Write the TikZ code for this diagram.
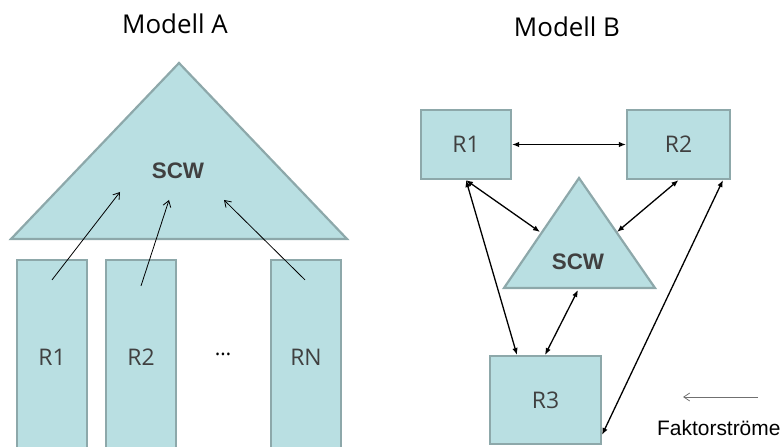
\documentclass[tikz,border=0pt]{standalone}
\usepackage{fontspec}
\setmainfont{Liberation Sans}
\newfontfamily\titlefont{Open Sans}
\newfontfamily\labelfont{Open Sans}
\usetikzlibrary{arrows.meta,calc}
\definecolor{boxfill}{HTML}{B9DFE2}
\definecolor{boxline}{HTML}{8DA8AA}
\definecolor{labelgrey}{HTML}{404040}
\definecolor{legendgrey}{HTML}{707070}
\begin{document}
\begin{tikzpicture}[x=1bp,y=-1bp,
  shapestyle/.style={fill=boxfill,draw=boxline,line width=2.2bp},
  rbox/.style={shapestyle,inner sep=0pt,font=\labelfont\fontsize{23}{27}\selectfont,text=labelgrey},
  scwtext/.style={font=\bfseries\fontsize{22.5}{26}\selectfont,text=labelgrey},
  titletext/.style={font=\titlefont\fontsize{26}{30}\selectfont},
  flowA/.style={line width=0.8bp,-{Straight Barb[length=6bp,width=8bp]}},
  flowB/.style={line width=1.3bp,{Latex[length=7bp,width=5.5bp]}-{Latex[length=7bp,width=5.5bp]}},
]
\useasboundingbox (0,0) rectangle (784,447);
\clip (0,0) rectangle (784,447);

% ---------- Modell A ----------
\node[titletext] (titleA) at (175,24) {Modell A};
\coordinate (tA) at (179,63);
\coordinate (lA) at (11,239);
\coordinate (rA) at (347,239);
\path[shapestyle] (tA) -- (rA) -- (lA) -- cycle;
\node[scwtext] (scwA) at (178,171) {SCW};

\node[rbox,minimum width=70bp,minimum height=194bp] (a1) at (52,357) {R1};
\node[rbox,minimum width=70bp,minimum height=194bp] (a2) at (141,357) {R2};
\node[rbox,minimum width=70bp,minimum height=194bp] (aN) at (306,357) {RN};
\node[font=\labelfont\fontsize{21}{25}\selectfont] (dots) at (223,354) {\dots};

\coordinate (e1) at (120,192);
\coordinate (e2) at (169,200);
\coordinate (e3) at (224,200);
\draw[flowA] ($(a1.north)+(0,21)$) -- (e1);
\draw[flowA] ($(a2.north)+(0,27)$) -- (e2);
\draw[flowA] ($(aN.north)+(-1,21)$) -- (e3);

% ---------- Modell B ----------
\node[titletext] (titleB) at (567,27) {Modell B};
\node[rbox,minimum width=90bp,minimum height=69bp] (b1) at (466,144.5) {R1};
\node[rbox,minimum width=103bp,minimum height=69bp] (b2) at (678.5,144.5) {R2};
\node[rbox,minimum width=111bp,minimum height=88bp] (b3) at (545.5,400) {R3};

\coordinate (tB) at (579,178);
\coordinate (lB) at (504,288);
\coordinate (rB) at (655,288);
\path[shapestyle] (tB) -- (rB) -- (lB) -- cycle;
\node[scwtext] (scwB) at (578,262) {SCW};

\coordinate (triL) at (540,232);
\coordinate (triR) at (617,232);
\coordinate (triB) at (578,290);
\coordinate (r3a) at (517,355);
\coordinate (r3b) at (545,355);
\coordinate (r3c) at (602,435);
\coordinate (b2s) at (723,180);

\draw[flowB] (b1.east) -- (b2.west);
\draw[flowB] (b1.south) -- (triL);
\draw[flowB] (b1.south) -- (r3a);
\draw[flowB] (b2.south) -- (triR);
\draw[flowB] (triB) -- (r3b);
\draw[flowB] (b2s) -- (r3c);

% legend
\coordinate (legS) at (758,397);
\coordinate (legE) at (683,397);
\draw[line width=0.8bp,draw=legendgrey,-{Straight Barb[length=6bp,width=8bp]}] (legS) -- (legE);
\node[anchor=west,font=\fontsize{21}{25}\selectfont,inner sep=0pt] (legtext) at (657,428) {Faktorströme};
\end{tikzpicture}
\end{document}
